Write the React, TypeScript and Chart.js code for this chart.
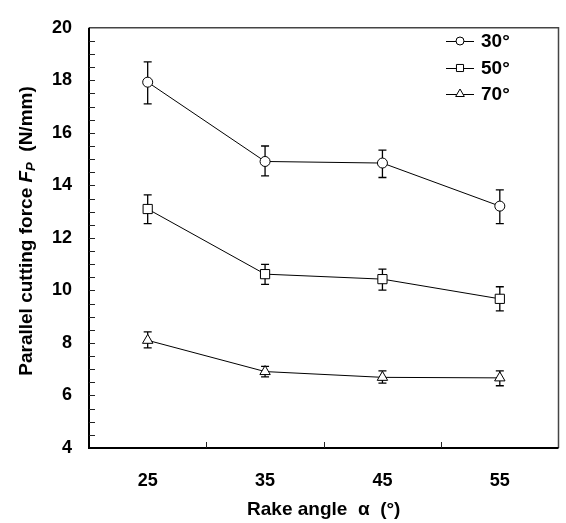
import React, { useEffect, useRef } from 'react';
import { Chart, registerables } from 'chart.js';
import { drawPoint } from 'chart.js/helpers';

Chart.register(...registerables);

const categories = ['25', '35', '45', '55'];
const seriesLabels = ['30°', '50°', '70°'];
const pointStyles = ['circle', 'rect', 'triangle'];

const mean30 = [17.93, 14.91, 14.85, 13.21];
const upper30 = [18.7, 15.5, 15.34, 13.83];
const lower30 = [17.1, 14.36, 14.3, 12.54];

const mean50 = [13.1, 10.62, 10.43, 9.68];
const upper50 = [13.64, 10.99, 10.81, 10.14];
const lower50 = [12.54, 10.23, 10.01, 9.22];

const mean70 = [8.1, 6.91, 6.69, 6.67];
const upper70 = [8.42, 7.11, 6.94, 6.94];
const lower70 = [7.81, 6.71, 6.47, 6.37];

const yMin = 4;
const yMax = 20;
const yStep = 2;
const yMinorStep = 0.5;

const means = [mean30, mean50, mean70];
const uppers = [upper30, upper50, upper70];
const lowers = [lower30, lower50, lower70];

const FONT = '"Liberation Sans", Arial, sans-serif';
const pointRadii = [5, 6.5, 6];
const legendRadii = [4, 5, 5];

const framePlugin = {
  id: 'frame',
  beforeDatasetsDraw(chart: any) {
    const { ctx, scales } = chart;
    const y = scales.y;
    ctx.save();
    ctx.strokeStyle = '#000';
    ctx.lineWidth = 1.3;
    means.forEach((_, i) => {
      const meta = chart.getDatasetMeta(i);
      meta.data.forEach((pt: any, j: number) => {
        const x = pt.x;
        const yt = y.getPixelForValue(uppers[i][j]);
        const yb = y.getPixelForValue(lowers[i][j]);
        ctx.beginPath();
        ctx.moveTo(x, yt);
        ctx.lineTo(x, yb);
        ctx.moveTo(x - 4, yt);
        ctx.lineTo(x + 4, yt);
        ctx.moveTo(x - 4, yb);
        ctx.lineTo(x + 4, yb);
        ctx.stroke();
      });
    });
    ctx.restore();
  },
  afterDraw(chart: any) {
    const { ctx, chartArea: a, scales } = chart;
    const y = scales.y;
    const x = scales.x;
    ctx.save();
    ctx.strokeStyle = '#444';
    ctx.lineWidth = 1.5;
    ctx.beginPath();
    ctx.moveTo(a.left, a.top);
    ctx.lineTo(a.right, a.top);
    ctx.lineTo(a.right, a.bottom);
    ctx.stroke();
    ctx.strokeStyle = '#000';
    ctx.lineWidth = 2;
    ctx.beginPath();
    ctx.moveTo(a.left, a.top);
    ctx.lineTo(a.left, a.bottom);
    ctx.lineTo(a.right, a.bottom);
    ctx.stroke();
    ctx.lineWidth = 1;
    ctx.strokeStyle = '#222';
    ctx.beginPath();
    for (let v = yMin + yMinorStep; v < yMax; v += yMinorStep) {
      const py = Math.round(y.getPixelForValue(v)) + 0.5;
      ctx.moveTo(a.left, py);
      ctx.lineTo(a.left + 6, py);
    }
    for (let j = 1; j < categories.length; j++) {
      const px = Math.round((x.getPixelForValue(j - 1) + x.getPixelForValue(j)) / 2) + 0.5;
      ctx.moveTo(px, a.bottom);
      ctx.lineTo(px, a.bottom - 6);
    }
    ctx.stroke();

    const lx0 = 446, lx1 = 474, lmx = 460, tx = 481;
    const ly = [41, 68, 94];
    seriesLabels.forEach((lab, i) => {
      ctx.strokeStyle = '#000';
      ctx.lineWidth = 1;
      ctx.beginPath();
      ctx.moveTo(lx0, ly[i] + 0.5);
      ctx.lineTo(lx1, ly[i] + 0.5);
      ctx.stroke();
      ctx.fillStyle = '#fff';
      ctx.strokeStyle = '#000';
      drawPoint(ctx, { pointStyle: pointStyles[i], radius: legendRadii[i], rotation: 0, borderWidth: 1 } as any, lmx, ly[i]);
      ctx.fillStyle = '#000';
      ctx.font = `bold 19px ${FONT}`;
      ctx.textAlign = 'left';
      ctx.textBaseline = 'middle';
      ctx.fillText(lab, tx, ly[i] + 1);
    });

    ctx.fillStyle = '#000';
    ctx.font = `bold 19px ${FONT}`;
    ctx.textAlign = 'center';
    ctx.textBaseline = 'alphabetic';
    ctx.fillText('Rake angle  α  (°)', (a.left + a.right) / 2, 515);

    ctx.save();
    ctx.translate(32, 231);
    ctx.rotate(-Math.PI / 2);
    const partA = 'Parallel cutting force ';
    const partF = 'F';
    const partP = 'P';
    const partB = '  (N/mm)';
    const fN = `bold 19px ${FONT}`;
    const fI = `italic bold 19px ${FONT}`;
    const fS = `italic bold 13px ${FONT}`;
    ctx.font = fN;
    const wA = ctx.measureText(partA).width;
    const wB = ctx.measureText(partB).width;
    ctx.font = fI;
    const wF = ctx.measureText(partF).width;
    ctx.font = fS;
    const wP = ctx.measureText(partP).width;
    const total = wA + wF + wP + wB;
    let cx = -total / 2;
    ctx.textAlign = 'left';
    ctx.textBaseline = 'alphabetic';
    ctx.font = fN;
    ctx.fillText(partA, cx, 0);
    cx += wA;
    ctx.font = fI;
    ctx.fillText(partF, cx, 0);
    cx += wF;
    ctx.font = fS;
    ctx.fillText(partP, cx, 3);
    cx += wP;
    ctx.font = fN;
    ctx.fillText(partB, cx, 0);
    ctx.restore();

    ctx.restore();
  },
};

export default function App() {
  const ref = useRef<HTMLCanvasElement>(null);
  useEffect(() => {
    document.body.style.margin = '0';
    const canvas = ref.current!;
    const chart = new Chart(canvas, {
      type: 'line',
      data: {
        labels: categories,
        datasets: means.map((m, i) => ({
          label: seriesLabels[i],
          data: m,
          borderColor: '#000',
          borderWidth: 1,
          pointStyle: pointStyles[i] as any,
          pointRadius: pointRadii[i],
          pointBackgroundColor: '#fff',
          pointBorderColor: '#000',
          pointBorderWidth: 1,
          fill: false,
          tension: 0,
        })),
      },
      options: {
        animation: false,
        responsive: false,
        maintainAspectRatio: false,
        layout: { padding: { left: 0, top: 16, right: 5, bottom: 0 } },
        plugins: { legend: { display: false }, tooltip: { enabled: false } },
        scales: {
          x: {
            type: 'category',
            offset: true,
            grid: { display: false, drawTicks: false, tickLength: 0, offset: true },
            border: { display: false },
            ticks: { font: { family: FONT, size: 18, weight: 'bold' }, color: '#000', padding: 22, maxRotation: 0 },
            afterFit: (s: any) => { s.height = 75; },
          },
          y: {
            min: yMin,
            max: yMax,
            grid: { display: false, drawTicks: false, tickLength: 0 },
            border: { display: false },
            ticks: { stepSize: yStep, font: { family: FONT, size: 18, weight: 'bold' }, color: '#000', padding: 17 },
            afterFit: (s: any) => { s.width = 89; },
          },
        },
      },
      plugins: [framePlugin],
    });
    return () => chart.destroy();
  }, []);
  return (
    <div style={{ width: 566, height: 523 }}>
      <canvas ref={ref} width={566} height={523} style={{ display: 'block' }} />
    </div>
  );
}
